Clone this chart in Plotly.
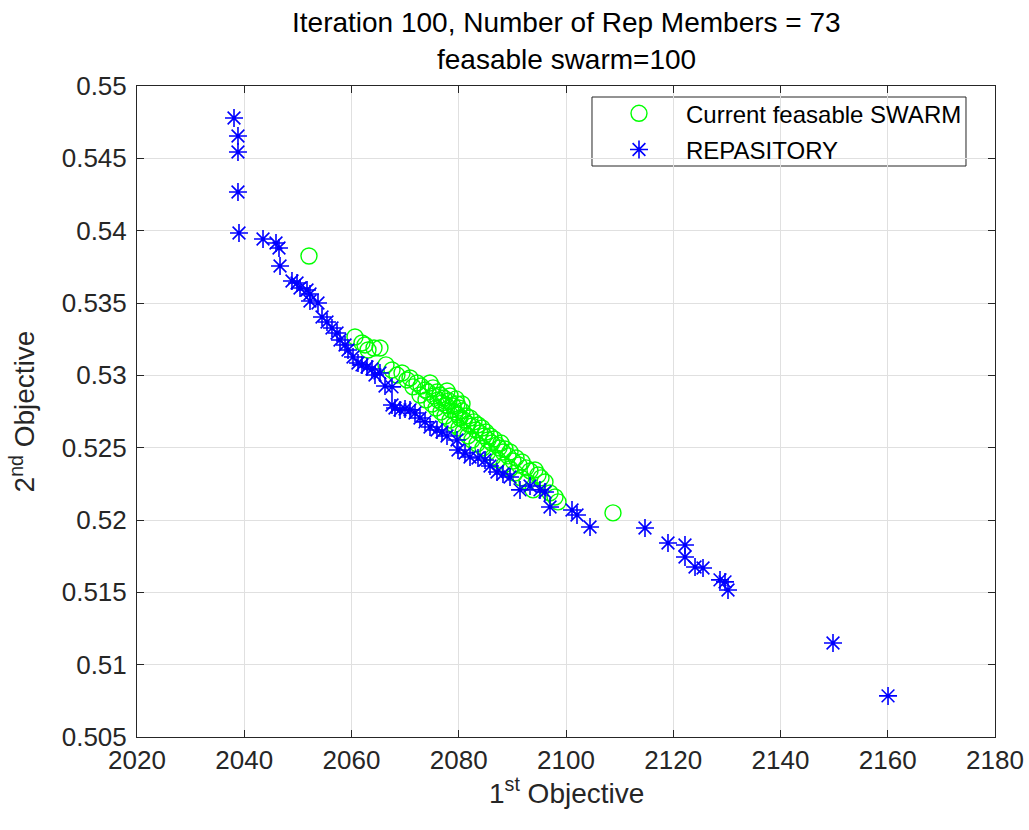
import plotly.graph_objects as go

# Current feasible swarm (objective 1, objective 2)
swarm_f1 = [
    2060.65, 2061.96, 2062.52, 2063.08, 2064.20, 2065.31, 2066.43, 2067.55, 2068.48, 2069.42,
    2070.35, 2070.91, 2071.47, 2072.21, 2072.96, 2073.71, 2074.27, 2074.64, 2075.20, 2075.38,
    2075.94, 2076.13, 2076.50, 2076.88, 2077.25, 2077.62, 2077.81, 2078.18, 2078.55, 2078.93,
    2079.30, 2079.67, 2079.86, 2080.05, 2080.23, 2080.61, 2080.98, 2081.35, 2081.72, 2082.10,
    2082.47, 2082.84, 2083.22, 2083.59, 2083.96, 2084.34, 2084.71, 2085.08, 2085.45, 2085.83,
    2086.20, 2086.57, 2087.13, 2087.51, 2087.88, 2088.25, 2088.62, 2089.18, 2089.56, 2090.12,
    2090.68, 2091.24, 2091.79, 2092.54, 2093.29, 2094.22, 2094.78, 2095.34, 2096.08, 2093.85,
    2097.02, 2097.95, 2098.51, 2072.77, 2073.89, 2075.01, 2075.76, 2076.69, 2077.44, 2078.37,
    2079.11, 2080.05, 2080.79, 2081.72, 2082.47, 2083.40, 2084.52, 2085.45, 2086.39, 2087.32,
    2088.44, 2089.56, 2090.49, 2091.61, 2092.73, 2078.37, 2079.49, 2080.61, 2052.07, 2108.76,
]
swarm_f2 = [
    0.53265, 0.53224, 0.53210, 0.53175, 0.53189, 0.53189, 0.53072, 0.53037, 0.53002, 0.53016,
    0.52968, 0.52982, 0.52920, 0.52947, 0.52926, 0.52899, 0.52885, 0.52947, 0.52913, 0.52857,
    0.52885, 0.52830, 0.52864, 0.52809, 0.52843, 0.52795, 0.52892, 0.52823, 0.52761, 0.52788,
    0.52747, 0.52802, 0.52726, 0.52774, 0.52705, 0.52754, 0.52691, 0.52719, 0.52664, 0.52705,
    0.52650, 0.52678, 0.52622, 0.52657, 0.52601, 0.52636, 0.52581, 0.52608, 0.52553, 0.52581,
    0.52532, 0.52560, 0.52519, 0.52498, 0.52532, 0.52470, 0.52491, 0.52443, 0.52470, 0.52408,
    0.52429, 0.52380, 0.52401, 0.52360, 0.52339, 0.52346, 0.52311, 0.52291, 0.52263, 0.52208,
    0.52187, 0.52159, 0.52125, 0.52864, 0.52830, 0.52802, 0.52774, 0.52747, 0.52719, 0.52691,
    0.52657, 0.52636, 0.52608, 0.52581, 0.52553, 0.52526, 0.52498, 0.52470, 0.52436, 0.52415,
    0.52380, 0.52353, 0.52325, 0.52291, 0.52263, 0.52857, 0.52837, 0.52802, 0.53825, 0.52049,
]

# Repository (non-dominated archive) members
rep_f1 = [
    2038.09, 2038.83, 2038.83, 2038.83, 2039.02, 2043.50, 2045.92, 2046.48, 2046.67, 2048.90,
    2049.84, 2050.40, 2051.70, 2052.26, 2052.26, 2053.75, 2054.50, 2055.43, 2056.36, 2057.30,
    2057.86, 2059.35, 2060.28, 2061.21, 2062.89, 2063.82, 2064.38, 2065.31, 2066.25, 2067.55,
    2067.55, 2068.11, 2070.91, 2071.84, 2072.77, 2074.64, 2076.88, 2079.67, 2079.86, 2082.10,
    2084.90, 2087.13, 2089.56, 2091.42, 2095.15, 2096.08, 2097.02, 2101.12, 2102.05, 2104.48,
    2114.73, 2119.02, 2122.19, 2122.19, 2124.06, 2125.55, 2128.72, 2129.65, 2130.21, 2149.79,
    2160.05, 2058.79, 2061.96, 2069.04, 2069.98, 2073.71, 2075.94, 2077.81, 2081.17, 2083.59,
    2085.83, 2088.25, 2093.29,
]
rep_f2 = [
    0.54779, 0.54654, 0.54544, 0.54267, 0.53984, 0.53942, 0.53915, 0.53880, 0.53756, 0.53652,
    0.53638, 0.53604, 0.53590, 0.53562, 0.53514, 0.53500, 0.53403, 0.53369, 0.53327, 0.53293,
    0.53244, 0.53175, 0.53127, 0.53085, 0.53058, 0.53044, 0.53002, 0.53016, 0.52926, 0.52920,
    0.52795, 0.52774, 0.52761, 0.52740, 0.52705, 0.52643, 0.52608, 0.52553, 0.52484, 0.52436,
    0.52415, 0.52332, 0.52297, 0.52208, 0.52208, 0.52194, 0.52090, 0.52069, 0.52035, 0.51952,
    0.51945, 0.51841, 0.51827, 0.51744, 0.51675, 0.51668, 0.51586, 0.51572, 0.51516, 0.51150,
    0.50784, 0.53210, 0.53072, 0.52761, 0.52767, 0.52678, 0.52622, 0.52581, 0.52463, 0.52429,
    0.52373, 0.52318, 0.52235,
]

iteration = 100
n_rep = len(rep_f1)
n_feasible = len(swarm_f1)

x_range = [2020, 2180]
y_range = [0.505, 0.55]

FONT = "Liberation Sans, Arial, Helvetica, sans-serif"
AX_COLOR = "#262626"
GRID_COLOR = "#e0e0e0"

fig = go.Figure()
fig.add_trace(go.Scatter(
    x=swarm_f1, y=swarm_f2, mode="markers", name="Current feasable SWARM",
    legendgroup="swarm",
    marker=dict(symbol="circle-open", size=16, color="#00ff00",
                line=dict(width=1.4, color="#00ff00")),
))
fig.add_trace(go.Scatter(
    x=rep_f1, y=rep_f2, mode="markers", name="REPASITORY",
    legendgroup="rep",
    marker=dict(symbol="asterisk-open", size=15, color="#0000ff",
                line=dict(width=1.6, color="#0000ff")),
))

axis_common = dict(
    showgrid=True, gridcolor=GRID_COLOR, gridwidth=1,
    showline=True, linecolor=AX_COLOR, linewidth=1, mirror="ticks",
    ticks="inside", ticklen=7, tickcolor=AX_COLOR, tickwidth=1,
    zeroline=False, automargin=False,
    tickfont=dict(family=FONT, size=26, color=AX_COLOR),
)

# Two-line title and the x-axis label, drawn as centred text around the axes
texts = [
    (f"Iteration {iteration}, Number of Rep Members = {n_rep}", 1.098, "#000000"),
    (f"feasable swarm={n_feasible}", 1.040, "#000000"),
    ("1<sup>st</sup> Objective", -0.083, AX_COLOR),
]

# Legend frame (paper coordinates); the legend itself is drawn without a border
legend_box = dict(x0=0.5303, x1=0.9662, y0=0.8771, y1=0.9831)

fig.update_layout(
    width=1029, height=830,
    margin=dict(l=137, r=34, t=86, b=93),
    paper_bgcolor="white", plot_bgcolor="white",
    font=dict(family=FONT, color=AX_COLOR),
    xaxis=dict(range=x_range, dtick=20, tick0=2020, **axis_common),
    yaxis=dict(range=y_range, dtick=0.005, tick0=0.505, ticklabelstandoff=4,
               title=dict(text="2<sup>nd</sup> Objective",
                          font=dict(family=FONT, size=28, color=AX_COLOR), standoff=18),
               **axis_common),
    legend=dict(
        x=0.5303, y=0.992, xanchor="left", yanchor="top",
        bgcolor="rgba(0,0,0,0)", borderwidth=0,
        font=dict(family=FONT, size=24, color="#000000"),
        itemwidth=84, tracegroupgap=2,
    ),
    showlegend=True,
    shapes=[dict(
        type="rect", xref="paper", yref="paper", layer="between",
        line=dict(color=AX_COLOR, width=1), fillcolor="white",
        **legend_box,
    )],
)

for text, yy, color in texts:
    fig.add_annotation(
        text=text, x=0.5, xref="paper", y=yy, yref="paper",
        xanchor="center", yanchor="middle", showarrow=False,
        font=dict(family=FONT, size=28, color=color),
    )

fig.write_html("out.html")
